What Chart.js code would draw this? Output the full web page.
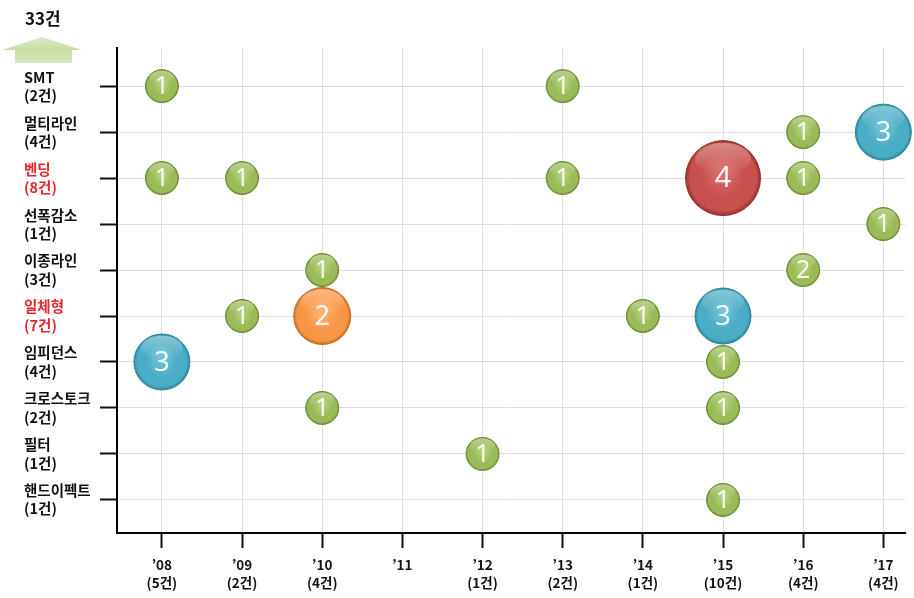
<!DOCTYPE html>
<html>
<head>
<meta charset="utf-8">
<script src="https://cdn.jsdelivr.net/npm/chart.js@4.4.0/dist/chart.umd.min.js"></script>
<style>
body { margin: 0; background: #fff; }
#wrap { position: relative; width: 914px; height: 598px; }
#total { position: absolute; left: 25px; top: 5px; font: bold 17px "Noto Sans CJK KR", sans-serif; color: #111; }
#arrow { position: absolute; left: 0; top: 0; }
</style>
</head>
<body>
<div id="wrap">
  <canvas id="c" width="914" height="598"></canvas>
  <div id="total">33건</div>
  <svg id="arrow" width="90" height="70">
    <defs>
      <linearGradient id="ag" x1="0" y1="0" x2="0" y2="1">
        <stop offset="0" stop-color="#dfeac6"/>
        <stop offset="0.5" stop-color="#c9dda3"/>
        <stop offset="1" stop-color="#dae8c0"/>
      </linearGradient>
    </defs>
    <polygon points="42,37 82,50 72,50 72,63 15,63 15,50 2,50" fill="url(#ag)"/>
  </svg>
</div>
<script>
// categories (top to bottom) and number of cases
const categories = ['SMT', '멀티라인', '벤딩', '선폭감소', '이종라인', '일체형', '임피던스', '크로스토크', '필터', '핸드이펙트'];
const categoryCounts = [2, 4, 8, 1, 3, 7, 4, 2, 1, 1];
const highlighted = ['벤딩', '일체형'];

// years ('08 .. '17) and number of cases
const years = [8, 9, 10, 11, 12, 13, 14, 15, 16, 17];
const yearCounts = [5, 2, 4, 0, 1, 2, 1, 10, 4, 4];

// [year, category, count]
const greenPoints = [
  [8, 'SMT', 1], [13, 'SMT', 1],
  [16, '멀티라인', 1],
  [8, '벤딩', 1], [9, '벤딩', 1], [13, '벤딩', 1], [16, '벤딩', 1],
  [17, '선폭감소', 1],
  [10, '이종라인', 1], [16, '이종라인', 2],
  [9, '일체형', 1], [14, '일체형', 1],
  [15, '임피던스', 1],
  [10, '크로스토크', 1], [15, '크로스토크', 1],
  [12, '필터', 1],
  [15, '핸드이펙트', 1]
];
const bluePoints = [[17, '멀티라인', 3], [15, '일체형', 3], [8, '임피던스', 3]];
const orangePoints = [[10, '일체형', 2]];
const redPoints = [[15, '벤딩', 4]];

function toData(list) {
  return list.map(p => ({x: p[0], y: categories.indexOf(p[1]), v: p[2]}));
}

function bubbleFill(base, light, dark) {
  return function(ctx) {
    const chart = ctx.chart;
    if (ctx.type !== 'data' || !chart.scales || !chart.scales.x || !chart.scales.y) return base;
    const x = chart.scales.x.getPixelForValue(ctx.raw.x);
    const y = chart.scales.y.getPixelForValue(ctx.raw.y);
    const r = ctx.dataset.radius;
    if (!isFinite(x) || !isFinite(y) || !isFinite(r)) return base;
    const g = chart.ctx.createRadialGradient(x, y - r * 0.15, r * 0.1, x, y, r);
    g.addColorStop(0, light);
    g.addColorStop(0.55, base);
    g.addColorStop(0.88, base);
    g.addColorStop(1, dark);
    return g;
  };
}

function series(list, base, light, dark, radius, fontSize) {
  return {
    data: toData(list),
    radius: radius,
    hoverRadius: 0,
    backgroundColor: bubbleFill(base, light, dark),
    borderColor: dark,
    borderWidth: 1,
    clip: false,
    labelSize: fontSize
  };
}

const bubbleLabels = {
  id: 'bubbleLabels',
  afterDatasetsDraw(chart) {
    const ctx = chart.ctx;
    chart.data.datasets.forEach((ds, i) => {
      chart.getDatasetMeta(i).data.forEach((el, j) => {
        const r = el.options.radius;
        ctx.save();
        // glossy top
        const g = ctx.createLinearGradient(0, el.y - r, 0, el.y - r * 0.1);
        g.addColorStop(0, 'rgba(255,255,255,0.35)');
        g.addColorStop(1, 'rgba(255,255,255,0)');
        ctx.fillStyle = g;
        ctx.beginPath();
        ctx.ellipse(el.x, el.y - r * 0.52, r * 0.75, r * 0.42, 0, 0, Math.PI * 2);
        ctx.fill();
        ctx.fillStyle = 'rgba(255,255,255,0.92)';
        ctx.font = ds.labelSize + 'px "Noto Sans", sans-serif';
        ctx.textAlign = 'center';
        ctx.textBaseline = 'middle';
        ctx.fillText(ds.data[j].v, el.x, el.y + 1);
        ctx.restore();
      });
    });
  }
};

new Chart(document.getElementById('c'), {
  type: 'bubble',
  data: {
    datasets: [
      series(greenPoints, '#9bbb59', '#b5d076', '#6e8b33', 16.5, 25),
      series(orangePoints, '#f79646', '#ffb070', '#c96d20', 28.5, 27),
      series(bluePoints, '#4bacc6', '#6cc2d9', '#2c86a0', 28, 27),
      series(redPoints, '#c8504d', '#d86c68', '#94322f', 37.5, 29)
    ]
  },
  options: {
    responsive: false,
    animation: false,
    events: [],
    layout: {autoPadding: false, padding: {left: 24, top: 48, right: 9, bottom: 0}},
    plugins: {legend: {display: false}, tooltip: {enabled: false}},
    scales: {
      x: {
        type: 'linear',
        min: 7.44,
        max: 17.27,
        afterBuildTicks: s => { s.ticks = years.map(v => ({value: v})); },
        afterFit: s => { s.height = 65; },
        border: {color: '#000', width: 2},
        grid: {color: '#dedede', lineWidth: 1, tickLength: 15, tickColor: '#111', tickWidth: 2},
        ticks: {
          color: '#111',
          padding: 8,
          maxRotation: 0,
          autoSkip: false,
          font: {family: '"Noto Sans CJK KR", sans-serif', size: 13.5, weight: 'bold', lineHeight: 1.35},
          callback: v => {
            const i = years.indexOf(v);
            const yr = '’' + String(v).padStart(2, '0');
            return yearCounts[i] ? [yr, '(' + yearCounts[i] + '건)'] : yr;
          }
        }
      },
      y: {
        type: 'linear',
        reverse: true,
        min: -0.83,
        max: 9.72,
        afterBuildTicks: s => { s.ticks = categories.map((c, i) => ({value: i})); },
        afterFit: s => { s.width = 93; },
        border: {color: '#000', width: 2},
        grid: {color: '#dedede', lineWidth: 1, tickLength: 17, tickColor: '#111', tickWidth: 2},
        ticks: {
          crossAlign: 'far',
          autoSkip: false,
          color: c => highlighted.includes(categories[c.tick.value]) ? '#e5262b' : '#111',
          font: {family: '"Noto Sans CJK KR", sans-serif', size: 14.5, weight: 'bold', lineHeight: 1.25},
          callback: v => [categories[v], '(' + categoryCounts[v] + '건)']
        }
      }
    }
  },
  plugins: [bubbleLabels]
});
</script>
</body>
</html>
